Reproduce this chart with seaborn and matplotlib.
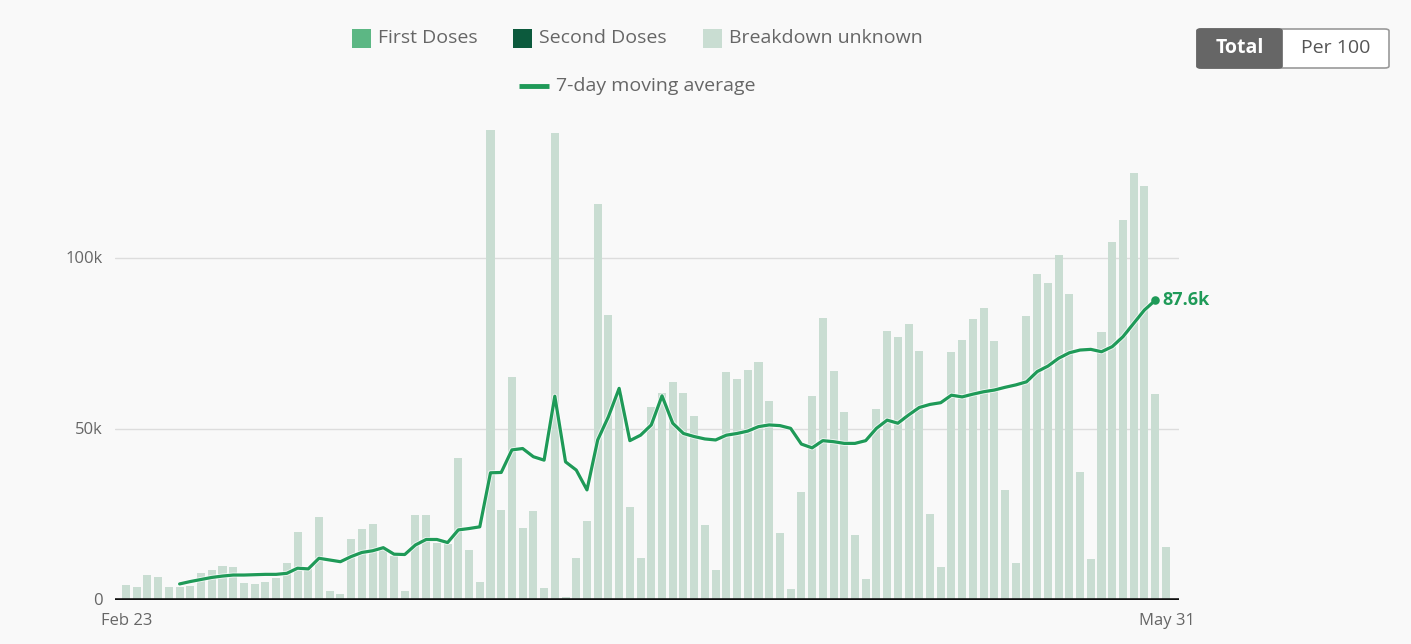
import numpy as np
import pandas as pd
import matplotlib
matplotlib.use("Agg")
import matplotlib.pyplot as plt
from matplotlib.patches import Rectangle, FancyBboxPatch
from matplotlib.lines import Line2D
import matplotlib.patheffects as pe
import seaborn as sns

# Daily doses administered (thousands), Feb 23 - May 31
dates = pd.date_range("2021-02-23", "2021-05-31", freq="D")
daily_doses_k = [
    4.3, 3.9, 7.3, 6.6, 3.9, 3.9, 4.2, 8.0, 8.7, 9.9,
    9.7, 4.9, 4.8, 5.2, 6.3, 10.7, 20.0, 9.0, 24.4, 2.6,
    1.9, 17.9, 20.7, 22.3, 15.0, 13.0, 2.6, 24.9, 25.0, 16.8,
    16.3, 41.6, 14.5, 5.2, 137.4, 26.3, 65.3, 21.2, 26.1, 3.4,
    136.6, 1.0, 12.2, 23.2, 115.8, 83.3, 60.0, 27.1, 12.2, 56.5,
    60.6, 63.7, 60.6, 53.8, 21.8, 8.8, 66.8, 64.5, 67.3, 69.6,
    58.2, 19.7, 3.3, 31.6, 59.8, 82.6, 67.0, 55.1, 18.9, 6.2,
    56.0, 78.8, 76.9, 80.8, 72.8, 25.2, 9.7, 72.6, 76.0, 82.1,
    85.5, 75.7, 32.1, 10.7, 83.0, 95.3, 92.7, 101.0, 89.5, 37.3,
    11.9, 78.5, 104.6, 111.1, 124.8, 121.0, 60.2, 15.6,
]

# 7-day moving average (thousands), starting on the 6th day and ending May 30
avg_start_day = 5
moving_avg_k = [
    4.7, 5.4, 6.0, 6.6, 7.0, 7.3, 7.3, 7.4, 7.5, 7.5,
    7.8, 9.3, 9.1, 12.2, 11.7, 11.2, 12.7, 13.9, 14.4, 15.3,
    13.4, 13.3, 16.1, 17.7, 17.7, 16.8, 20.5, 20.9, 21.4, 37.2,
    37.3, 43.9, 44.3, 41.9, 40.9, 59.6, 40.4, 38.0, 32.2, 46.8,
    53.6, 61.9, 46.6, 48.2, 51.2, 59.7, 51.7, 48.7, 47.8, 47.1,
    46.8, 48.2, 48.7, 49.4, 50.7, 51.2, 51.0, 50.2, 45.6, 44.5,
    46.6, 46.3, 45.8, 45.8, 46.6, 50.2, 52.6, 51.7, 54.1, 56.3,
    57.2, 57.7, 59.9, 59.4, 60.2, 60.9, 61.4, 62.2, 62.9, 63.8,
    66.8, 68.4, 70.7, 72.3, 73.1, 73.3, 72.6, 74.1, 77.0, 80.9,
    84.8, 87.6,
]

y_ticks = [0, 50_000, 100_000]
y_tick_labels = ["0", "50k", "100k"]
legend_labels = ["First Doses", "Second Doses", "Breakdown unknown"]
line_label = "7-day moving average"
last_label = "87.6k"

BG = "#f9f9f9"
BAR = "#c9ddd2"
FIRST = "#5cb784"
SECOND = "#0c5a3d"
LINE = "#1f9a58"
TEXT = "#666666"

sns.set_theme(style="white")
plt.rcParams["font.family"] = ["Open Sans", "DejaVu Sans"]

W, H = 1411, 644
fig = plt.figure(figsize=(W / 100, H / 100), dpi=100, facecolor=BG)


def fx(px):
    return px / W


def fy(py):
    return 1 - py / H


# Plot area: x from 115 to 1179 px, y from 110 to 600 px
ax = fig.add_axes([fx(115.3), fy(600), fx(1178.7) - fx(115.3), fy(110) - fy(600)])
ax.set_facecolor(BG)

bars = pd.DataFrame({"day": np.arange(len(dates)), "doses": np.array(daily_doses_k) * 1000})
sns.barplot(data=bars, x="day", y="doses", color=BAR, width=0.75, saturation=1,
            edgecolor="none", ax=ax, zorder=2)

avg = pd.DataFrame({"day": np.arange(avg_start_day, avg_start_day + len(moving_avg_k)),
                    "avg": np.array(moving_avg_k) * 1000})
sns.lineplot(data=avg, x="day", y="avg", color=LINE, linewidth=2.3, ax=ax, zorder=4,
             solid_joinstyle="round", solid_capstyle="round",
             path_effects=[pe.Stroke(linewidth=3.6, foreground="white", alpha=0.7), pe.Normal()])
last = avg.iloc[-1]
ax.scatter([last["day"]], [last["avg"]], s=38, color=LINE, zorder=5, linewidths=0)
ax.annotate(last_label, (last["day"], last["avg"]), xytext=(5, 0), textcoords="offset points",
            ha="left", va="center", color=LINE, fontsize=13, fontweight="bold")

ax.set_xlim(-1, 98.2)
ax.set_ylim(0, 143_300)
ax.set_yticks(y_ticks[1:])
ax.set_yticklabels([])
ax.grid(axis="y", color="#dddddd", linewidth=1, zorder=0)
ax.set_xticks([])
ax.set_xlabel("")
ax.set_ylabel("")
for s in ax.spines.values():
    s.set_visible(False)
ax.axhline(0, color="#111111", linewidth=2.6, zorder=6)

# y tick labels
for v, lab in zip(y_ticks, y_tick_labels):
    py = 600 - v / 1000 * 3.42
    fig.text(fx(103), fy(py + 1), lab, ha="right", va="center", color=TEXT, fontsize=12)

# x tick labels (first and last day)
fig.text(fx(127), fy(621), dates[0].strftime("%b %-d"), ha="center", va="center",
         color=TEXT, fontsize=12)
fig.text(fx(1167), fy(621), dates[-1].strftime("%b %-d"), ha="center", va="center",
         color=TEXT, fontsize=12)

# Legend
for (x0, col, lab) in [(352, FIRST, legend_labels[0]), (513, SECOND, legend_labels[1]),
                       (703, BAR, legend_labels[2])]:
    fig.patches.append(Rectangle((fx(x0), fy(48)), fx(19), fy(29) - fy(48),
                                 transform=fig.transFigure, facecolor=col, edgecolor="none"))
    fig.text(fx(x0 + 26), fy(38), lab, ha="left", va="center", color=TEXT, fontsize=14)

fig.lines.append(Line2D([fx(519), fx(549)], [fy(86), fy(86)], transform=fig.transFigure,
                        color=LINE, linewidth=3.5, solid_capstyle="butt"))
fig.text(fx(556), fy(86), line_label, ha="left", va="center", color=TEXT, fontsize=14)

# Total / Per 100 toggle
fig.patches.append(FancyBboxPatch((fx(1197), fy(68)), fx(1389) - fx(1197), fy(29) - fy(68),
                                  boxstyle="round,pad=0,rounding_size=0.003",
                                  transform=fig.transFigure, facecolor="white",
                                  edgecolor="#9a9a9a", linewidth=1.2))
fig.patches.append(FancyBboxPatch((fx(1197), fy(68)), fx(1282) - fx(1197), fy(29) - fy(68),
                                  boxstyle="round,pad=0,rounding_size=0.003",
                                  transform=fig.transFigure, facecolor="#666666",
                                  edgecolor="#666666", linewidth=1.2))
fig.text(fx(1239.5), fy(48), "Total", ha="center", va="center", color="white",
         fontsize=14, fontweight="bold")
fig.text(fx(1335.5), fy(48), "Per 100", ha="center", va="center", color="#555555",
         fontsize=14)

fig.savefig("out.png", dpi=100, facecolor=BG)
